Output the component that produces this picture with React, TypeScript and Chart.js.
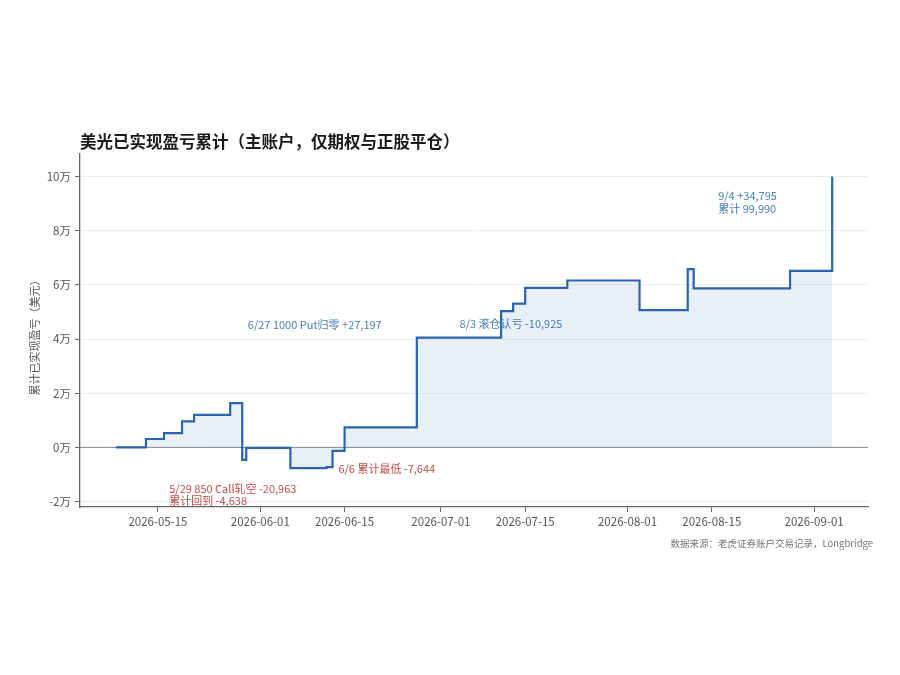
import React, { useEffect, useRef } from 'react';
import { Chart, registerables } from 'chart.js';

Chart.register(...registerables);

// ---- data ----
const dates = [
  '2026-05-08', '2026-05-13', '2026-05-16', '2026-05-19', '2026-05-21', '2026-05-27',
  '2026-05-29', '2026-05-29T16:00', '2026-06-06', '2026-06-12', '2026-06-13', '2026-06-15',
  '2026-06-27', '2026-07-11', '2026-07-13', '2026-07-15', '2026-07-22', '2026-08-03',
  '2026-08-11', '2026-08-12', '2026-08-28', '2026-09-04',
];
const cumulativePnl = [
  0, 3100, 5300, 9600, 12000, 16325,
  -4638, -200, -7644, -7300, -1300, 7400,
  40500, 50300, 53100, 58900, 61600, 50675,
  65800, 58700, 65195, 99990,
];
const xTickDates = [
  '2026-05-15', '2026-06-01', '2026-06-15', '2026-07-01',
  '2026-07-15', '2026-08-01', '2026-08-15', '2026-09-01',
];
const yTickValues = [-20000, 0, 20000, 40000, 60000, 80000, 100000];
const yLimits = [-22000, 108300];

const titleText = '美光已实现盈亏累计（主账户，仅期权与正股平仓）';
const yAxisTitle = '累计已实现盈亏（美元）';
const sourceText = '数据来源：老虎证券账户交易记录，Longbridge';

const annotations = [
  { date: '2026-05-29', value: -4638, lines: ['5/29 850 Call轧空 -20,963', '累计回到 -4,638'], tone: 'red', dx: -73, dy: 28.5 },
  { date: '2026-06-06', value: -7644, lines: ['6/6 累计最低 -7,644'], tone: 'red', dx: 48, dy: 1 },
  { date: '2026-06-27', value: 40500, lines: ['6/27 1000 Put归零 +27,197'], tone: 'blue', dx: -169, dy: -13 },
  { date: '2026-08-03', value: 50675, lines: ['8/3 滚仓认亏 -10,925'], tone: 'blue', dx: -180, dy: 13.5 },
  { date: '2026-09-04', value: 99990, lines: ['9/4 +34,795', '累计 99,990'], tone: 'blue', dx: -114, dy: 19.5 },
];

// ---- helpers ----
const BASE = Date.parse('2026-05-15T00:00Z');
const toDay = (s: string) => (Date.parse(s.includes('T') ? s + 'Z' : s + 'T00:00Z') - BASE) / 86400000;
const pad2 = (n: number) => String(n).padStart(2, '0');
const dayLabel = (d: number) => {
  const dt = new Date(BASE + Math.round(d) * 86400000);
  return `${dt.getUTCFullYear()}-${pad2(dt.getUTCMonth() + 1)}-${pad2(dt.getUTCDate())}`;
};

const FONT = "'Noto Sans CJK SC', 'Noto Sans', sans-serif";
const LINE_COLOR = '#2a64ad';
const BLUE_TEXT = '#4a7cb8';
const RED_TEXT = '#bf4b45';

export default function App() {
  const ref = useRef<HTMLCanvasElement | null>(null);

  useEffect(() => {
    if (!ref.current) return;
    const days = dates.map(toDay);
    const xMin = Math.min(...days);
    const xMax = Math.max(...days);
    const span = xMax - xMin;

    const textPlugin = {
      id: 'texts',
      beforeDatasetsDraw(chart: any) {
        const { ctx, chartArea } = chart;
        const y0 = chart.scales.y.getPixelForValue(0);
        ctx.save();
        ctx.strokeStyle = '#8c8c8c';
        ctx.lineWidth = 1;
        ctx.beginPath();
        ctx.moveTo(chartArea.left, y0);
        ctx.lineTo(chartArea.right, y0);
        ctx.stroke();
        ctx.restore();
      },
      afterDraw(chart: any) {
        const { ctx, scales } = chart;
        ctx.save();
        // title
        ctx.fillStyle = '#1a1a1a';
        ctx.font = `bold 16.5px ${FONT}`;
        ctx.textAlign = 'left';
        ctx.textBaseline = 'middle';
        ctx.fillText(titleText, 80, 142);
        // source
        ctx.fillStyle = '#777777';
        ctx.font = `9.5px ${FONT}`;
        ctx.textAlign = 'right';
        ctx.fillText(sourceText, 873, 543);
        // y axis title
        ctx.save();
        ctx.translate(35, 335);
        ctx.rotate(-Math.PI / 2);
        ctx.textAlign = 'center';
        ctx.fillStyle = '#555555';
        ctx.font = `11px ${FONT}`;
        ctx.fillText(yAxisTitle, 0, 0);
        ctx.restore();
        // annotations
        ctx.font = `11px ${FONT}`;
        ctx.textAlign = 'left';
        for (const a of annotations) {
          const px = scales.x.getPixelForValue(toDay(a.date)) + a.dx;
          const py = scales.y.getPixelForValue(a.value) + a.dy;
          ctx.fillStyle = a.tone === 'red' ? RED_TEXT : BLUE_TEXT;
          a.lines.forEach((ln, i) => ctx.fillText(ln, px, py + i * 12.5));
        }
        ctx.restore();
      },
    };

    const chart = new Chart(ref.current, {
      type: 'line',
      data: {
        datasets: [
          {
            data: days.map((d, i) => ({ x: d, y: cumulativePnl[i] })),
            borderColor: LINE_COLOR,
            borderWidth: 2.2,
            backgroundColor: 'rgba(42,100,173,0.1)',
            fill: 'origin',
            stepped: true,
            pointRadius: 0,
            tension: 0,
          },
        ],
      },
      options: {
        animation: false,
        responsive: false,
        devicePixelRatio: 1,
        layout: { padding: { top: 154, right: 32, bottom: 675 - 507 - 30, left: 0 } },
        plugins: {
          legend: { display: false },
          tooltip: { enabled: false },
          title: { display: false },
        },
        scales: {
          x: {
            type: 'linear',
            min: xMin - span * 0.05,
            max: xMax + span * 0.05,
            afterBuildTicks: (scale: any) => {
              scale.ticks = xTickDates.map((d) => ({ value: toDay(d) }));
            },
            afterFit: (scale: any) => {
              scale.height = 30;
            },
            ticks: {
              color: '#555555',
              font: { family: FONT, size: 11.5 },
              padding: 3,
              maxRotation: 0,
              autoSkip: false,
              callback: (v: any) => dayLabel(Number(v)),
            },
            grid: {
              drawOnChartArea: false,
              drawTicks: true,
              tickLength: 5,
              tickColor: '#666666',
            },
            border: { display: true, color: '#666666', width: 1.3 },
          },
          y: {
            type: 'linear',
            min: yLimits[0],
            max: yLimits[1],
            afterBuildTicks: (scale: any) => {
              scale.ticks = yTickValues.map((v) => ({ value: v }));
            },
            afterFit: (scale: any) => {
              scale.width = 80;
            },
            ticks: {
              color: '#555555',
              font: { family: FONT, size: 11.5 },
              padding: 4,
              callback: (v: any) => `${Number(v) / 10000}万`,
            },
            grid: {
              color: '#ececec',
              lineWidth: 1,
              drawTicks: true,
              tickLength: 5,
              tickColor: '#666666',
            },
            border: { display: true, color: '#666666', width: 1.3 },
          },
        },
      },
      plugins: [textPlugin],
    });
    return () => chart.destroy();
  }, []);

  return (
    <div style={{ position: 'fixed', left: 0, top: 0, width: 900, height: 675, background: '#ffffff' }}>
      <canvas ref={ref} width={900} height={675} style={{ display: 'block' }} />
    </div>
  );
}
